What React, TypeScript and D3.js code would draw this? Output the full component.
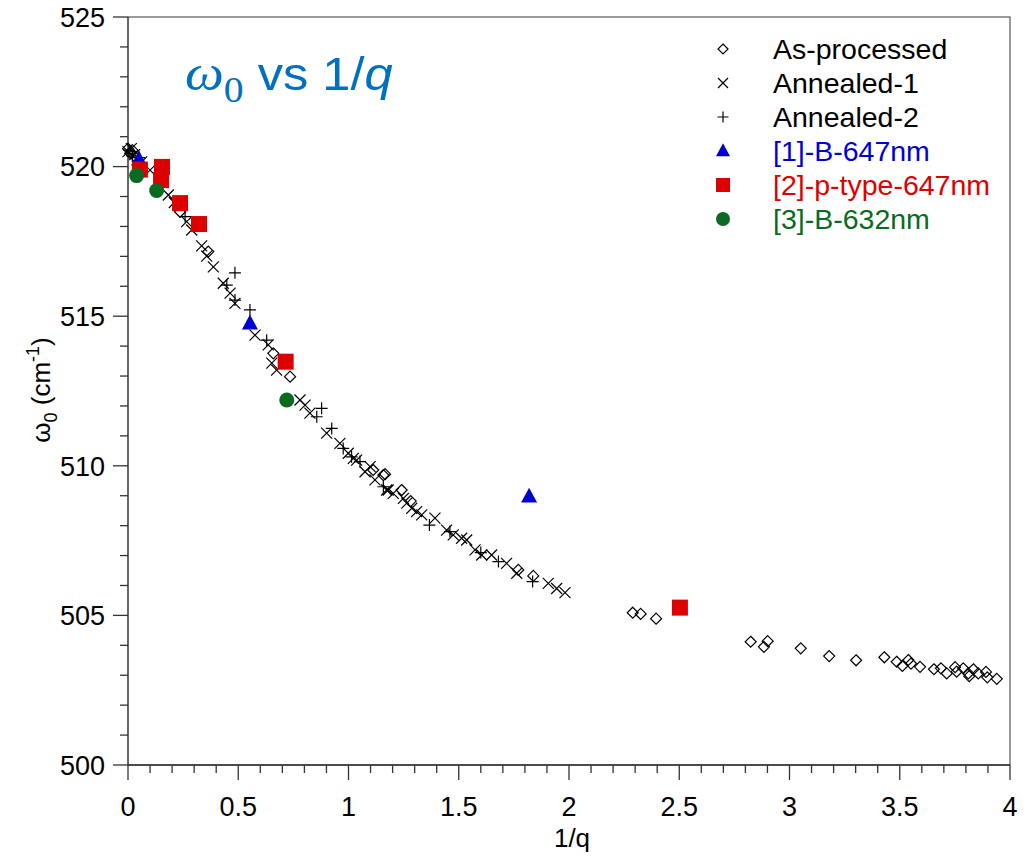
import React, { useEffect, useRef } from "react";
import * as d3 from "d3";

// [1/q, omega0] pairs
const asProcessed: [number, number][] = [
  [0.0, 520.6], [0.01, 520.45], [0.02, 520.55], [0.03, 520.35],
  [0.236, 518.49], [0.364, 517.16], [0.659, 513.76], [0.735, 512.98],
  [1.112, 509.86], [1.158, 509.69], [1.166, 509.72], [1.241, 509.19],
  [1.282, 508.82], [1.77, 506.52], [1.838, 506.32],
  [2.289, 505.09], [2.325, 505.05], [2.395, 504.89], [2.824, 504.12],
  [2.884, 503.95], [2.901, 504.14], [3.051, 503.9], [3.18, 503.64],
  [3.302, 503.5], [3.43, 503.6], [3.486, 503.45], [3.512, 503.31],
  [3.539, 503.51], [3.551, 503.39], [3.592, 503.28], [3.655, 503.2],
  [3.687, 503.23], [3.713, 503.06], [3.751, 503.27], [3.758, 503.12],
  [3.788, 503.23], [3.811, 503.06], [3.815, 502.97], [3.834, 503.2],
  [3.856, 503.06], [3.891, 503.11], [3.897, 502.93], [3.94, 502.88],
];

const annealed1: [number, number][] = [
  [0.0, 520.5], [0.015, 520.6], [0.03, 520.4], [0.062, 520.16], [0.1, 519.88],
  [0.183, 519.05], [0.21, 518.8], [0.266, 518.16], [0.289, 517.88],
  [0.334, 517.35], [0.357, 517.01], [0.387, 516.65], [0.432, 516.1],
  [0.463, 515.77], [0.485, 515.43], [0.576, 514.37], [0.636, 514.04],
  [0.652, 513.43], [0.674, 513.2], [0.78, 512.2], [0.803, 512.03],
  [0.825, 511.76], [0.901, 511.09], [0.961, 510.75], [0.999, 510.42],
  [1.022, 510.25], [1.037, 510.19], [1.075, 509.8], [1.098, 509.97],
  [1.12, 509.53], [1.173, 509.19], [1.18, 509.19], [1.203, 509.08],
  [1.249, 508.91], [1.264, 508.75], [1.287, 508.58], [1.309, 508.47],
  [1.332, 508.36], [1.392, 508.25], [1.445, 507.85], [1.475, 507.69],
  [1.513, 507.58], [1.536, 507.52], [1.574, 507.19], [1.604, 507.02],
  [1.649, 507.02], [1.717, 506.74], [1.763, 506.41], [1.906, 506.07],
  [1.944, 505.9], [1.982, 505.76],
];

const annealed2: [number, number][] = [
  [0.005, 520.55], [0.02, 520.35], [0.05, 520.3], [0.259, 518.33],
  [0.448, 516.04], [0.485, 516.45], [0.485, 515.54], [0.553, 515.21],
  [0.629, 514.2], [0.72, 513.5], [0.856, 511.64], [0.878, 511.92],
  [0.924, 511.25], [0.976, 510.58], [1.014, 510.3], [1.052, 510.14],
  [1.158, 509.3], [1.367, 508.02], [1.46, 507.8], [1.6, 507.1],
  [1.68, 506.8], [1.835, 506.13],
];

const ref1: [number, number][] = [[0.05, 520.24], [0.553, 514.76], [1.819, 508.97]];
const ref2: [number, number][] = [
  [0.054, 519.9], [0.154, 519.99], [0.15, 519.55], [0.236, 518.78],
  [0.322, 518.08], [0.715, 513.48], [2.503, 505.26],
];
const ref3: [number, number][] = [[0.039, 519.7], [0.13, 519.2], [0.72, 512.2]];

const legendLabels = ["As-processed", "Annealed-1", "Annealed-2", "[1]-B-647nm", "[2]-p-type-647nm", "[3]-B-632nm"];
const legendColors = ["#000", "#000", "#000", "#0000d0", "#dd0000", "#0b6a22"];

const xMajor = [0, 0.5, 1, 1.5, 2, 2.5, 3, 3.5, 4];
const yMajor = [500, 505, 510, 515, 520, 525];

const font = "Liberation Sans, Arial, sans-serif";
const serif = "Liberation Serif, Times New Roman, serif";

const App = () => {
  const ref = useRef<SVGSVGElement>(null);

  useEffect(() => {
    const svg = d3.select(ref.current);
    svg.selectAll("*").remove();

    const left = 128, right = 1010, top = 17, bottom = 765;
    const x = d3.scaleLinear().domain([0, 4]).range([left, right]);
    const y = d3.scaleLinear().domain([500, 525]).range([bottom, top]);

    // frame
    svg.append("path")
      .attr("d", `M${left},${top}H${right}V${bottom}`)
      .attr("fill", "none").attr("stroke", "#7a7a7a").attr("stroke-width", 1.5);

    // x axis
    const gx = svg.append("g");
    gx.append("line").attr("x1", left).attr("x2", right).attr("y1", bottom).attr("y2", bottom)
      .attr("stroke", "#111").attr("stroke-width", 1.5);
    gx.selectAll("line.minor").data(d3.range(0, 41).map(i => i / 10)).enter().append("line")
      .attr("x1", d => x(d)).attr("x2", d => x(d))
      .attr("y1", bottom).attr("y2", d => bottom + (Math.abs(d * 2 - Math.round(d * 2)) < 1e-6 ? 15 : 8))
      .attr("stroke", "#333").attr("stroke-width", 1.3);
    gx.selectAll("text").data(xMajor).enter().append("text")
      .attr("x", d => x(d)).attr("y", 816)
      .attr("text-anchor", "middle").attr("font-family", font).attr("font-size", 27)
      .text(d => String(d));

    // y axis
    const gy = svg.append("g");
    gy.append("line").attr("x1", left).attr("x2", left).attr("y1", top).attr("y2", bottom)
      .attr("stroke", "#333").attr("stroke-width", 1.5);
    gy.selectAll("line.minor").data(d3.range(500, 526)).enter().append("line")
      .attr("x1", left).attr("x2", d => left - (d % 5 === 0 ? 15 : 8))
      .attr("y1", d => y(d)).attr("y2", d => y(d))
      .attr("stroke", "#333").attr("stroke-width", 1.3);
    gy.selectAll("text").data(yMajor).enter().append("text")
      .attr("x", 105).attr("y", d => y(d)).attr("dy", "0.36em")
      .attr("text-anchor", "end").attr("font-family", font).attr("font-size", 27)
      .text(d => String(d));

    // axis titles
    svg.append("text").attr("x", 572).attr("y", 847)
      .attr("text-anchor", "middle").attr("font-family", font).attr("font-size", 26)
      .text("1/q");
    const yt = svg.append("text")
      .attr("transform", `translate(50,390) rotate(-90)`)
      .attr("text-anchor", "middle").attr("font-family", font).attr("font-size", 26);
    yt.append("tspan").text("ω");
    yt.append("tspan").attr("font-size", 18).attr("dy", 7).text("0");
    yt.append("tspan").attr("dy", -7).text(" (cm");
    yt.append("tspan").attr("font-size", 18).attr("dy", -11).text("-1");
    yt.append("tspan").attr("dy", 11).text(")");

    // chart title (slightly wide, like the original)
    const tt = svg.append("text").attr("transform", "translate(185,90) scale(1.1,1)").attr("fill", "#0070c0");
    tt.append("tspan").attr("font-family", serif)
      .attr("font-style", "italic").attr("font-size", 50).text("ω");
    tt.append("tspan").attr("font-family", serif)
      .attr("font-size", 36).attr("dy", 12).text("0");
    tt.append("tspan").attr("font-family", font).attr("font-size", 46).attr("dy", -12).text(" vs 1/");
    tt.append("tspan").attr("font-family", font).attr("font-style", "italic").attr("font-size", 46).text("q");

    // marker drawers
    const diamond = (g: any, s: number) => g.append("path")
      .attr("d", `M0,${-s}L${s},0L0,${s}L${-s},0Z`).attr("fill", "none").attr("stroke", "#000").attr("stroke-width", 1.2);
    const cross = (g: any, s: number) => g.append("path")
      .attr("d", `M${-s},${-s}L${s},${s}M${-s},${s}L${s},${-s}`).attr("stroke", "#000").attr("stroke-width", 1.2);
    const plus = (g: any, s: number) => g.append("path")
      .attr("d", `M${-s},0H${s}M0,${-s}V${s}`).attr("stroke", "#000").attr("stroke-width", 1.2);
    const tri = (g: any, s: number) => g.append("path")
      .attr("d", `M0,${-s * 1.1}L${s},${s * 0.75}L${-s},${s * 0.75}Z`).attr("fill", legendColors[3]);
    const square = (g: any, s: number) => g.append("rect")
      .attr("x", -s).attr("y", -s).attr("width", 2 * s).attr("height", 2 * s).attr("fill", legendColors[4]);
    const circle = (g: any, s: number) => g.append("circle").attr("r", s).attr("fill", legendColors[5]);

    const series: [[number, number][], (g: any, s: number) => any, number, number][] = [
      [asProcessed, diamond, 5.5, 5],
      [annealed1, cross, 5.5, 5],
      [annealed2, plus, 6, 5.5],
      [ref1, tri, 8, 7],
      [ref2, square, 8, 7],
      [ref3, circle, 7.5, 7],
    ];

    const plot = svg.append("g");
    series.forEach(([data, draw, s]) => {
      plot.selectAll(null).data(data).enter().append("g")
        .attr("transform", d => `translate(${x(d[0])},${y(d[1])})`)
        .each(function () { draw(d3.select(this), s); });
    });

    // legend
    const lg = svg.append("g");
    series.forEach(([, draw, , ls], i) => {
      const cy = 49 + i * 34;
      draw(lg.append("g").attr("transform", `translate(723,${cy})`), ls);
      lg.append("text").attr("x", 773).attr("y", cy).attr("dy", "0.36em")
        .attr("font-family", font).attr("font-size", 28.5).attr("fill", legendColors[i])
        .text(legendLabels[i]);
    });
  }, []);

  return <svg ref={ref} width={1035} height={858} style={{ display: "block", position: "absolute", left: 0, top: 0 }}></svg>;
};

export default App;
